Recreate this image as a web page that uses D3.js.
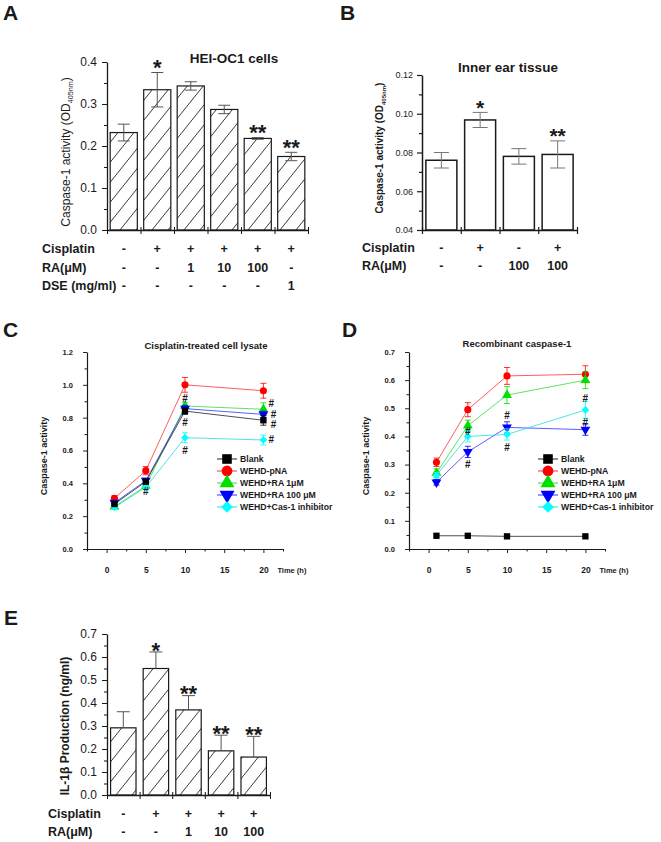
<!DOCTYPE html>
<html><head><meta charset="utf-8">
<script src="https://cdn.jsdelivr.net/npm/d3@7"></script>
<style>body{margin:0;background:#fff;} svg{display:block;}</style>
</head><body><svg id="fig" width="661" height="842"></svg>
<script>
const FONT = '"Liberation Sans", Arial, Helvetica, sans-serif';

// ================= DATA =================
// Panel A – HEI-OC1 cells
const aValues = [0.232, 0.334, 0.343, 0.287, 0.218, 0.175];
const aErrors = [0.020, 0.041, 0.010, 0.010, 0.002, 0.010];
const aStars = ["", "*", "", "", "**", "**"];
const aRowLabels = ["Cisplatin", "RA(\u03bcM)", "DSE (mg/ml)"];
const aCisplatin = ["-", "+", "+", "+", "+", "+"];
const aRA = ["-", "-", "1", "10", "100", "-"];
const aDSE = ["-", "-", "-", "-", "-", "1"];
const aYTicks = [0, 0.1, 0.2, 0.3, 0.4];
const aYMinor = [0.05, 0.15, 0.25, 0.35];

// Panel B – Inner ear tissue
const bValues = [0.076, 0.0968, 0.078, 0.079];
const bErrors = [0.004, 0.0039, 0.004, 0.007];
const bStars = ["", "*", "", "**"];
const bRowLabels = ["Cisplatin", "RA(\u03bcM)"];
const bCisplatin = ["-", "+", "-", "+"];
const bRA = ["-", "-", "100", "100"];
const bYTicks = [0.04, 0.06, 0.08, 0.10, 0.12];
const bYMinor = [0.05, 0.07, 0.09, 0.11];

// Panels C & D – time course
const timePoints = [1, 5, 10, 20];
const seriesNames = ["Blank", "WEHD-pNA", "WEHD+RA 1\u03bcM", "WEHD+RA 100 \u03bcM", "WEHD+Cas-1 inhibitor"];
const timeTicks = [0, 5, 10, 15, 20];
const timeMinor = [-2.5, 2.5, 7.5, 12.5, 17.5, 22.5];

// C – Cisplatin-treated cell lysate
const cBlank = [0.274, 0.410, 0.840, 0.784];
const cPNA   = [0.309, 0.477, 1.000, 0.964];
const cRA1   = [0.258, 0.384, 0.871, 0.851];
const cRA100 = [0.282, 0.416, 0.855, 0.820];
const cInhib = [0.254, 0.376, 0.678, 0.664];
const cBlankErr = [0.010, 0.015, 0.020, 0.030];
const cPNAErr   = [0.015, 0.025, 0.045, 0.045];
const cRA1Err   = [0.010, 0.015, 0.020, 0.040];
const cRA100Err = [0.010, 0.015, 0.020, 0.020];
const cInhibErr = [0.010, 0.015, 0.030, 0.030];
const cYTicks = [0, 0.2, 0.4, 0.6, 0.8, 1.0, 1.2];
const cYMinor = [0.1, 0.3, 0.5, 0.7, 0.9, 1.1];
const cHashTime  = [10, 10, 10, 5, 21, 21.3, 21.3, 21];
const cHashValue = [0.915, 0.769, 0.603, 0.35, 0.888, 0.822, 0.756, 0.67];

// D – Recombinant caspase-1
const dBlank = [0.047, 0.047, 0.045, 0.045];
const dPNA   = [0.308, 0.495, 0.615, 0.621];
const dRA1   = [0.270, 0.438, 0.547, 0.600];
const dRA100 = [0.237, 0.345, 0.432, 0.424];
const dInhib = [0.262, 0.400, 0.407, 0.494];
const dBlankErr = [0, 0, 0, 0];
const dPNAErr   = [0.015, 0.025, 0.030, 0.030];
const dRA1Err   = [0.015, 0.020, 0.030, 0.030];
const dRA100Err = [0.010, 0.020, 0.020, 0.020];
const dInhibErr = [0.010, 0.020, 0.020, 0.030];
const dYTicks = [0, 0.1, 0.2, 0.3, 0.4, 0.5, 0.6, 0.7];
const dYMinor = [0.05, 0.15, 0.25, 0.35, 0.45, 0.55, 0.65];
const dHashTime  = [5, 5, 10, 10, 20, 20];
const dHashValue = [0.416, 0.302, 0.473, 0.359, 0.533, 0.448];

// Panel E – IL-1β production
const eValues = [0.292, 0.550, 0.370, 0.192, 0.165];
const eErrors = [0.070, 0.072, 0.062, 0.068, 0.090];
const eStars = ["", "*", "**", "**", "**"];
const eRowLabels = ["Cisplatin", "RA(\u03bcM)"];
const eCisplatin = ["-", "+", "+", "+", "+"];
const eRA = ["-", "-", "1", "10", "100"];
const eYTicks = [0, 0.1, 0.2, 0.3, 0.4, 0.5, 0.6, 0.7];
const eYMinor = [0.05, 0.15, 0.25, 0.35, 0.45, 0.55, 0.65];

// ================= STYLE =================
const seriesStyle = [
  {color: "#000000", line: "#222222", symbol: "square"},
  {color: "#ff0000", line: "#ff3333", symbol: "circle"},
  {color: "#00e000", line: "#33dd33", symbol: "triangle"},
  {color: "#0000ff", line: "#3333ff", symbol: "triangleDown"},
  {color: "#00ffff", line: "#22dddd", symbol: "diamond"}
];
const INK = "#1a1a1a";

const svg = d3.select("#fig");
svg.append("rect").attr("width", 661).attr("height", 842).attr("fill", "#fff");
const defs = svg.append("defs");
const pat = defs.append("pattern").attr("id", "hatch").attr("patternUnits", "userSpaceOnUse")
  .attr("width", 16).attr("height", 20);
pat.append("path").attr("d", "M0,20 L16,0 M-2,2.5 L2,-2.5 M14,22.5 L18,17.5")
  .attr("stroke", "#222").attr("stroke-width", 0.9).attr("fill", "none");

function txt(g, x, y, s, size, weight, anchor) {
  return g.append("text").attr("x", x).attr("y", y).text(s)
    .attr("font-family", FONT).attr("font-size", size).attr("font-weight", weight || "normal")
    .attr("text-anchor", anchor || "start").attr("fill", INK);
}

function styleAxis(a, L) {
  a.select(".domain").attr("stroke", INK).attr("stroke-width", L.axisW);
  a.selectAll(".tick line").attr("stroke", INK).attr("stroke-width", L.axisW * 0.8);
  a.selectAll(".tick text").attr("font-family", FONT).attr("font-size", L.tickFont)
    .attr("font-weight", L.tickWeight).attr("fill", INK);
}

// ---------- bar panel ----------
function barPanel(L, D) {
  const g = svg.append("g");
  const n = D.values.length;
  const y = d3.scaleLinear().domain(L.yDomain).range([L.yBottom, L.yTop]);
  const x = d3.scaleBand().domain(d3.range(n)).range([L.xLeft, L.xRight])
    .paddingInner(L.pad).paddingOuter(L.pad / 2);
  const bw = x.bandwidth();
  const base = y(L.yDomain[0]);

  g.append("g").selectAll("rect").data(D.values).join("rect")
    .attr("x", (d, i) => x(i)).attr("y", d => y(d))
    .attr("width", bw).attr("height", d => base - y(d))
    .attr("fill", L.hatch ? "url(#hatch)" : "#fff")
    .attr("stroke", INK).attr("stroke-width", L.barStroke);

  // error bars
  const eg = g.append("g").attr("stroke", L.errColor).attr("stroke-width", 1).attr("fill", "none");
  D.values.forEach((v, i) => {
    const cx = x(i) + bw / 2, e = D.errors[i];
    const top = y(v + e), bot = L.errUpOnly ? y(v) : y(v - e);
    eg.append("line").attr("x1", cx).attr("x2", cx).attr("y1", top).attr("y2", bot);
    eg.append("line").attr("x1", cx - L.cap / 2).attr("x2", cx + L.cap / 2).attr("y1", top).attr("y2", top);
    if (!L.errUpOnly)
      eg.append("line").attr("x1", cx - L.cap / 2).attr("x2", cx + L.cap / 2).attr("y1", bot).attr("y2", bot);
  });

  // stars
  g.append("g").selectAll("text").data(D.stars).join("text")
    .attr("x", (d, i) => x(i) + bw / 2)
    .attr("y", (d, i) => y(D.values[i] + D.errors[i]) - L.starGap + 0.58 * L.starSize)
    .attr("text-anchor", "middle").attr("font-family", FONT).attr("font-weight", "bold")
    .attr("font-size", L.starSize).attr("fill", INK).text(d => d);

  // y axis
  g.append("g").attr("transform", `translate(${L.xLeft},0)`)
    .call(d3.axisLeft(y).tickValues(D.yTicks).tickFormat(d3.format(L.fmt))
      .tickSize(L.tickLen).tickPadding(L.tickPad).tickSizeOuter(0))
    .call(a => styleAxis(a, L));
  g.append("g").attr("transform", `translate(${L.xLeft},0)`)
    .call(d3.axisLeft(y).tickValues(D.yMinor).tickFormat("").tickSize(L.tickLen * 0.6))
    .call(a => { a.select(".domain").remove(); a.selectAll("line").attr("stroke", INK).attr("stroke-width", L.axisW * 0.8); });

  // x axis with boundary ticks
  const xb = d3.scaleLinear().domain([0, n]).range([L.xLeft, L.xRight]);
  g.append("g").attr("transform", `translate(0,${base})`)
    .call(d3.axisBottom(xb).tickValues(d3.range(n + 1)).tickFormat("").tickSize(4).tickSizeOuter(0))
    .call(a => { styleAxis(a, L); a.selectAll(".tick line").attr("y1", -3); });

  // title
  if (L.title) txt(g, L.titleX, L.titleY, L.title, L.titleSize, "bold", "middle");

  // y label
  const yl = g.append("text").attr("transform", `translate(${L.yLabelX},${L.yLabelY}) rotate(-90)`)
    .attr("text-anchor", "middle").attr("font-family", FONT).attr("font-size", L.yLabelSize)
    .attr("font-weight", L.yLabelWeight).attr("fill", INK);
  L.yLabelParts.forEach(p => {
    const t = yl.append("tspan").text(p.t);
    if (p.sub) t.attr("font-size", L.yLabelSize * 0.6).attr("dy", L.yLabelSize * 0.25);
    if (p.after) t.attr("dy", -L.yLabelSize * 0.25);
  });

  // rows of treatment labels
  D.rowLabels.forEach((lab, r) => {
    txt(g, L.rowLabelX, L.rowY[r], lab, L.rowFont, "bold");
    g.append("g").selectAll("text").data(D.rows[r]).join("text")
      .attr("x", (d, i) => x(i) + bw / 2).attr("y", L.rowY[r]).attr("text-anchor", "middle")
      .attr("font-family", FONT).attr("font-size", L.rowFont).attr("font-weight", "bold")
      .attr("fill", INK).text(d => d);
  });
}

// ---------- line panel ----------
function symbolPath(kind, size) {
  const t = {square: d3.symbolSquare, circle: d3.symbolCircle, triangle: d3.symbolTriangle,
             triangleDown: d3.symbolTriangle, diamond: d3.symbolSquare}[kind];
  return d3.symbol().type(t).size(size)();
}
function symbolRot(kind) { return kind === "triangleDown" ? 180 : kind === "diamond" ? 45 : 0; }
function symbolSize(kind, big) {
  const s = {square: 40, circle: 40, triangle: 42, triangleDown: 42, diamond: 30}[kind];
  return big ? s * 2.3 : s;
}

function linePanel(L, D) {
  const g = svg.append("g");
  const x = d3.scaleLinear().domain([-2.5, 22.5]).range([L.xLeft, L.xRight]);
  const y = d3.scaleLinear().domain(L.yDomain).range([L.yBottom, L.yTop]);

  g.append("g").attr("transform", `translate(${L.xLeft},0)`)
    .call(d3.axisLeft(y).tickValues(D.yTicks).tickFormat(d3.format(".1f"))
      .tickSize(4).tickPadding(10).tickSizeOuter(0))
    .call(a => styleAxis(a, L));
  g.append("g").attr("transform", `translate(${L.xLeft},0)`)
    .call(d3.axisLeft(y).tickValues(D.yMinor).tickFormat("").tickSize(2.5))
    .call(a => { a.select(".domain").remove(); a.selectAll("line").attr("stroke", INK); });
  g.append("g").attr("transform", `translate(0,${L.yBottom})`)
    .call(d3.axisBottom(x).tickValues(D.xTicks).tickFormat(d3.format("d"))
      .tickSize(4).tickPadding(14).tickSizeOuter(0))
    .call(a => styleAxis(a, Object.assign({}, L, {tickFont: L.xTickFont})));
  g.append("g").attr("transform", `translate(0,${L.yBottom})`)
    .call(d3.axisBottom(x).tickValues(D.xMinor).tickFormat("").tickSize(2.5))
    .call(a => { a.select(".domain").remove(); a.selectAll("line").attr("stroke", INK); });

  txt(g, x(20) + 14, L.yBottom + 24, "Time (h)", 7.5, "bold");
  txt(g, L.titleX, L.titleY, L.title, 9.5, "bold", "middle");
  g.append("text").attr("transform", `translate(${L.yLabelX},${L.yLabelY}) rotate(-90)`)
    .attr("text-anchor", "middle").attr("font-family", FONT).attr("font-size", 9)
    .attr("font-weight", "bold").attr("fill", INK).text("Caspase-1 activity");

  const line = d3.line().x(d => x(d.t)).y(d => y(d.v));
  const order = [1, 2, 3, 4, 0];
  order.forEach(k => {
    const st = seriesStyle[k];
    const pts = D.times.map((t, i) => ({t, v: D.series[k][i], e: D.errors[k][i]}));
    const sg = g.append("g");
    sg.append("path").attr("d", line(pts)).attr("fill", "none").attr("stroke", st.line).attr("stroke-width", 0.8);
    pts.filter(p => p.e > 0).forEach(p => {
      const cx = x(p.t), t = y(p.v + p.e), b = y(p.v - p.e);
      sg.append("path").attr("d", `M${cx},${t}V${b}M${cx - 3},${t}H${cx + 3}M${cx - 3},${b}H${cx + 3}`)
        .attr("stroke", st.color).attr("stroke-width", 0.8).attr("fill", "none");
    });
    sg.selectAll("path.m").data(pts).join("path").attr("class", "m")
      .attr("d", symbolPath(st.symbol, symbolSize(st.symbol)))
      .attr("transform", p => `translate(${x(p.t)},${y(p.v)}) rotate(${symbolRot(st.symbol)})`)
      .attr("fill", st.color);
  });

  // hash marks
  g.append("g").selectAll("text").data(D.hashT).join("text")
    .attr("x", d => x(d)).attr("y", (d, i) => y(D.hashV[i]) + 3.5)
    .attr("text-anchor", "middle").attr("font-family", FONT).attr("font-weight", "bold")
    .attr("font-size", 10).attr("fill", INK).text("#");

  // legend
  const lg = g.append("g");
  seriesNames.forEach((name, k) => {
    const st = seriesStyle[k], cy = L.legY + k * 12;
    lg.append("line").attr("x1", L.legX).attr("x2", L.legX + 20).attr("y1", cy).attr("y2", cy)
      .attr("stroke", st.line).attr("stroke-width", 1);
    lg.append("path").attr("d", symbolPath(st.symbol, symbolSize(st.symbol, true)))
      .attr("transform", `translate(${L.legX + 10},${cy}) rotate(${symbolRot(st.symbol)})`)
      .attr("fill", st.color);
    txt(lg, L.legX + 23, cy + 3.2, name, 8.7, "bold");
  });
}

// ================= DRAW =================
// panel letters
[["A", 3, 20], ["B", 340, 20], ["C", 3, 337], ["D", 342, 337], ["E", 4, 625]]
  .forEach(([s, x, y]) => txt(svg, x, y, s, 21, "bold"));

barPanel({
  xLeft: 107, xRight: 308, yTop: 62, yBottom: 230, yDomain: [0, 0.4], pad: 0.19,
  hatch: true, barStroke: 1.2, errColor: "#555", cap: 12, errUpOnly: false,
  starSize: 22, starGap: 10, fmt: ".1f", tickLen: 5, tickPad: 5, tickFont: 12, tickWeight: "normal", axisW: 1.3,
  title: "HEI-OC1 cells", titleX: 234, titleY: 63, titleSize: 13.5,
  yLabelX: 70, yLabelY: 152, yLabelSize: 12, yLabelWeight: "normal",
  yLabelParts: [{t: "Caspase-1 activity (OD"}, {t: "405nm", sub: true}, {t: ")", after: true}],
  rowLabelX: 42, rowY: [253, 272, 290], rowFont: 12.5
}, {values: aValues, errors: aErrors, stars: aStars, yTicks: aYTicks, yMinor: aYMinor,
    rowLabels: aRowLabels, rows: [aCisplatin, aRA, aDSE]});

barPanel({
  xLeft: 422, xRight: 577, yTop: 75, yBottom: 230, yDomain: [0.04, 0.12], pad: 0.2,
  hatch: false, barStroke: 1.5, errColor: "#777", cap: 15, errUpOnly: false,
  starSize: 21, starGap: 10, fmt: ".2f", tickLen: 5, tickPad: 4, tickFont: 9, tickWeight: "normal", axisW: 1.5,
  title: "Inner ear tissue", titleX: 508, titleY: 72, titleSize: 13.5,
  yLabelX: 383, yLabelY: 148, yLabelSize: 10, yLabelWeight: "bold",
  yLabelParts: [{t: "Caspase-1 activity (OD"}, {t: "405nm", sub: true}, {t: ")", after: true}],
  rowLabelX: 362, rowY: [252, 270], rowFont: 12.5
}, {values: bValues, errors: bErrors, stars: bStars, yTicks: bYTicks, yMinor: bYMinor,
    rowLabels: bRowLabels, rows: [bCisplatin, bRA]});

linePanel({
  xLeft: 87, xRight: 283, yTop: 352, yBottom: 549, yDomain: [0, 1.2], axisW: 1.2,
  tickFont: 7.5, xTickFont: 8.5, tickWeight: "bold",
  title: "Cisplatin-treated cell lysate", titleX: 206, titleY: 349, yLabelX: 47, yLabelY: 456,
  legX: 217, legY: 459
}, {times: timePoints, series: [cBlank, cPNA, cRA1, cRA100, cInhib],
    errors: [cBlankErr, cPNAErr, cRA1Err, cRA100Err, cInhibErr],
    yTicks: cYTicks, yMinor: cYMinor, xTicks: timeTicks, xMinor: timeMinor,
    hashT: cHashTime, hashV: cHashValue});

linePanel({
  xLeft: 409, xRight: 605, yTop: 352, yBottom: 549, yDomain: [0, 0.7], axisW: 1.2,
  tickFont: 7.5, xTickFont: 8.5, tickWeight: "bold",
  title: "Recombinant caspase-1", titleX: 517, titleY: 347, yLabelX: 369, yLabelY: 456,
  legX: 538, legY: 459
}, {times: timePoints, series: [dBlank, dPNA, dRA1, dRA100, dInhib],
    errors: [dBlankErr, dPNAErr, dRA1Err, dRA100Err, dInhibErr],
    yTicks: dYTicks, yMinor: dYMinor, xTicks: timeTicks, xMinor: timeMinor,
    hashT: dHashTime, hashV: dHashValue});

barPanel({
  xLeft: 107, xRight: 270, yTop: 634, yBottom: 795, yDomain: [0, 0.7], pad: 0.22,
  hatch: true, barStroke: 1.2, errColor: "#555", cap: 13, errUpOnly: true,
  starSize: 22, starGap: 7, fmt: ".1f", tickLen: 5, tickPad: 5, tickFont: 12, tickWeight: "normal", axisW: 1.3,
  title: null,
  yLabelX: 69, yLabelY: 726, yLabelSize: 12, yLabelWeight: "bold",
  yLabelParts: [{t: "IL-1\u03b2 Production (ng/ml)"}],
  rowLabelX: 48, rowY: [818, 836], rowFont: 12.5
}, {values: eValues, errors: eErrors, stars: eStars, yTicks: eYTicks, yMinor: eYMinor,
    rowLabels: eRowLabels, rows: [eCisplatin, eRA]});
</script>
</body></html>
